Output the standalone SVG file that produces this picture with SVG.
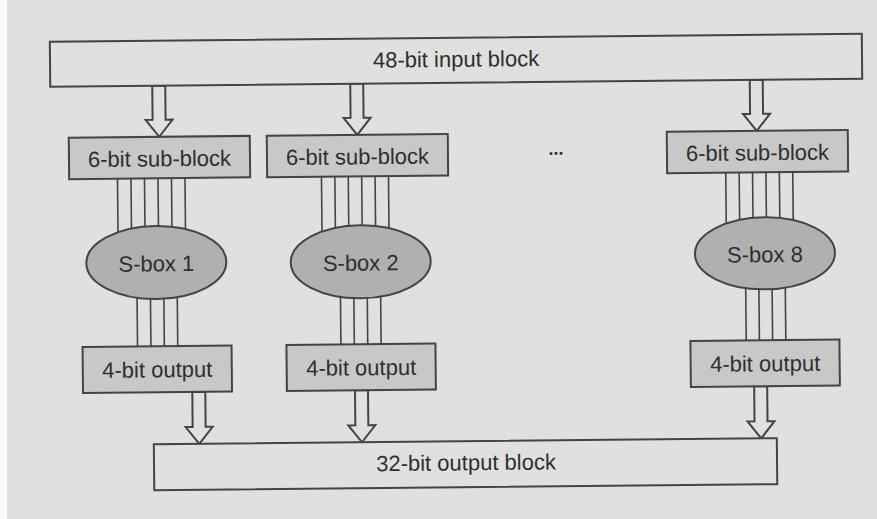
<svg xmlns="http://www.w3.org/2000/svg" width="877" height="519" viewBox="0 0 877 519">
<style>
text{font-family:"Liberation Sans",Arial,sans-serif;font-size:22px;fill:#2f2f2f;text-anchor:middle}
.blk{fill:#e0e0e0;stroke:#444;stroke-width:2}
.sub{fill:#c8c8c8;stroke:#444;stroke-width:2}
.sbox{fill:#b0b0b0;stroke:#444;stroke-width:2}
.wire{stroke:#444;stroke-width:1.6}
.arr{fill:#e0e0e0;stroke:#444;stroke-width:2;stroke-linejoin:miter}
</style>
<rect x="0" y="0" width="877" height="519" fill="#e0e0e0"/>
<rect x="0" y="0" width="7" height="519" fill="#fafafa"/>
<g transform="rotate(-0.57 438 260)">
<g id="connectors">
<polygon class="arr" points="154,83 167,83 167,117 174,117 160.5,134 147,117 154,117"/>
<polygon class="arr" points="352,83 365,83 365,117 372,117 358.5,134 345,117 352,117"/>
<polygon class="arr" points="751.5,83 764.5,83 764.5,117 771.5,117 758,134 744.5,117 751.5,117"/>
<g class="wire">
<line x1="118.3" y1="175.5" x2="118.3" y2="259"/><line x1="131.8" y1="175.5" x2="131.8" y2="259"/><line x1="145.3" y1="175.5" x2="145.3" y2="259"/><line x1="158.8" y1="175.5" x2="158.8" y2="259"/><line x1="172.3" y1="175.5" x2="172.3" y2="259"/><line x1="185.8" y1="175.5" x2="185.8" y2="259"/>
<line x1="136.7" y1="260" x2="136.7" y2="343.5"/><line x1="150.1" y1="260" x2="150.1" y2="343.5"/><line x1="163.5" y1="260" x2="163.5" y2="343.5"/><line x1="176.9" y1="260" x2="176.9" y2="343.5"/>
<line x1="322.3" y1="175.5" x2="322.3" y2="260"/><line x1="335.7" y1="175.5" x2="335.7" y2="260"/><line x1="349.1" y1="175.5" x2="349.1" y2="260"/><line x1="362.5" y1="175.5" x2="362.5" y2="260"/><line x1="375.9" y1="175.5" x2="375.9" y2="260"/><line x1="389.3" y1="175.5" x2="389.3" y2="260"/>
<line x1="340.1" y1="261" x2="340.1" y2="343.5"/><line x1="353.5" y1="261" x2="353.5" y2="343.5"/><line x1="366.9" y1="261" x2="366.9" y2="343.5"/><line x1="380.3" y1="261" x2="380.3" y2="343.5"/>
<line x1="726.6" y1="175.5" x2="726.6" y2="256"/><line x1="740" y1="175.5" x2="740" y2="256"/><line x1="753.4" y1="175.5" x2="753.4" y2="256"/><line x1="766.8" y1="175.5" x2="766.8" y2="256"/><line x1="780.2" y1="175.5" x2="780.2" y2="256"/><line x1="793.6" y1="175.5" x2="793.6" y2="256"/>
<line x1="745.4" y1="257" x2="745.4" y2="343.5"/><line x1="758.6" y1="257" x2="758.6" y2="343.5"/><line x1="771.8" y1="257" x2="771.8" y2="343.5"/><line x1="785" y1="257" x2="785" y2="343.5"/>
</g>
<polygon class="arr" points="191,389.5 204,389.5 204,424.5 211,424.5 197.5,441.5 184,424.5 191,424.5"/>
<polygon class="arr" points="353.7,389.5 366.7,389.5 366.7,424.5 373.7,424.5 360.2,441.5 346.7,424.5 353.7,424.5"/>
<polygon class="arr" points="752.9,389.5 765.9,389.5 765.9,424.5 772.9,424.5 759.4,441.5 745.9,424.5 752.9,424.5"/>
</g>
<g id="input48"><rect class="blk" x="52" y="38" width="812" height="45"/><text x="458" y="67">48-bit input block</text></g>
<g id="sub1"><rect class="sub" x="70" y="134" width="181" height="41.5"/><text x="160.5" y="163.5">6-bit sub-block</text></g>
<g id="sub2"><rect class="sub" x="268" y="134" width="181" height="41.5"/><text x="358.5" y="163.5">6-bit sub-block</text></g>
<g id="dots"><text x="557" y="156" style="font-size:18px;font-weight:bold">...</text></g>
<g id="sub8"><rect class="sub" x="668" y="134" width="181" height="41.5"/><text x="758.5" y="163.5">6-bit sub-block</text></g>
<g id="sbox1"><ellipse class="sbox" cx="156.3" cy="259.7" rx="70" ry="36.5"/><text x="156.3" y="268.5">S-box 1</text></g>
<g id="sbox2"><ellipse class="sbox" cx="360.7" cy="261" rx="70" ry="36.5"/><text x="360.7" y="269.8">S-box 2</text></g>
<g id="sbox8"><ellipse class="sbox" cx="765" cy="256.6" rx="70" ry="36"/><text x="765" y="265.4">S-box 8</text></g>
<g id="out1"><rect class="sub" x="81.7" y="343.5" width="149" height="46"/><text x="156.2" y="374.5">4-bit output</text></g>
<g id="out2"><rect class="sub" x="285.6" y="343.5" width="149" height="46"/><text x="360.1" y="374.5">4-bit output</text></g>
<g id="out8"><rect class="sub" x="689.6" y="343.5" width="149" height="46"/><text x="764.1" y="374.5">4-bit output</text></g>
<g id="output32"><rect class="blk" x="152" y="441.5" width="623" height="46"/><text x="464" y="470.5">32-bit output block</text></g>
</g>
</svg>
